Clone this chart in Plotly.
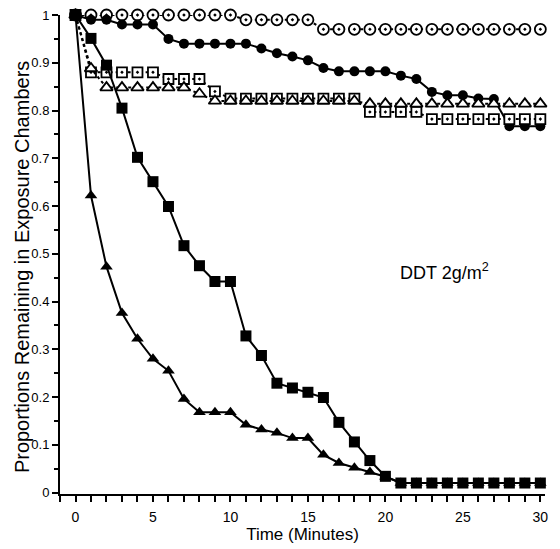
import plotly.graph_objects as go

time_min = list(range(31))

open_circles = [1.0]*11 + [0.99]*5 + [0.97]*15
filled_circles = [1.0, 0.99, 0.99, 0.98, 0.98, 0.98, 0.95, 0.94, 0.94, 0.94, 0.94,
                  0.94, 0.93, 0.92, 0.913, 0.905, 0.889, 0.882, 0.882, 0.882, 0.882,
                  0.873, 0.866, 0.839, 0.832, 0.832, 0.825, 0.824, 0.767, 0.767, 0.767]
open_squares = [1.0, 0.88, 0.88, 0.88, 0.88, 0.88, 0.866, 0.866, 0.866, 0.84, 0.825,
                0.825, 0.825, 0.825, 0.825, 0.825, 0.825, 0.825, 0.825, 0.797, 0.797,
                0.797, 0.797, 0.782, 0.782, 0.782, 0.782, 0.782, 0.782, 0.782, 0.782]
open_triangles = [1.0, 0.888, 0.848, 0.848, 0.848, 0.848, 0.848, 0.848, 0.835, 0.82, 0.82,
                  0.82, 0.82, 0.82, 0.82, 0.82, 0.82, 0.82, 0.82, 0.814, 0.814,
                  0.814, 0.814, 0.814, 0.814, 0.814, 0.814, 0.814, 0.814, 0.814, 0.814]
filled_squares = [1.0, 0.951, 0.895, 0.805, 0.702, 0.651, 0.599, 0.517, 0.475, 0.442, 0.442,
                  0.328, 0.287, 0.229, 0.219, 0.21, 0.199, 0.147, 0.106, 0.067, 0.034,
                  0.02, 0.02, 0.02, 0.02, 0.02, 0.02, 0.02, 0.02, 0.02, 0.02]
filled_triangles = [1.0, 0.622, 0.473, 0.376, 0.322, 0.28, 0.255, 0.196, 0.168, 0.168, 0.168,
                    0.142, 0.132, 0.125, 0.114, 0.114, 0.079, 0.062, 0.052, 0.043, 0.033,
                    0.02, 0.02, 0.02, 0.02, 0.02, 0.02, 0.02, 0.02, 0.02, 0.02]

x_ticks = [0, 5, 10, 15, 20, 25, 30]
y_ticks = [0, 0.1, 0.2, 0.3, 0.4, 0.5, 0.6, 0.7, 0.8, 0.9, 1]
y_tick_text = ["0", "0.1", "0.2", "0.3", "0.4", "0.5", "0.6", "0.7", "0.8", "0.9", "1"]

fig = go.Figure()

def add(y, symbol, dash, size, fill, lw=2, mlw=1.8):
    fig.add_trace(go.Scatter(
        x=time_min, y=y, mode="lines+markers", cliponaxis=False,
        line=dict(color="black", width=lw, dash=dash),
        marker=dict(symbol=symbol, size=size, color=fill,
                    line=dict(color="black", width=mlw)),
        showlegend=False))

add(open_circles, "circle-dot", "dot", 11, "white")
add(filled_circles, "circle", "solid", 10, "black", mlw=0)
add(open_squares, "square-dot", "dot", 10, "white")
add(open_triangles, "triangle-up", "dot", 11, "white")
add(filled_triangles, "triangle-up", "solid", 11, "black", mlw=0)
add(filled_squares, "square", "solid", 11, "black", mlw=0)

fig.add_annotation(x=0.697, y=0.464, xref="paper", yref="paper",
                   text="DDT 2g/m<sup>2</sup>", showarrow=False,
                   xanchor="left", yanchor="middle",
                   font=dict(family="Liberation Sans", size=18, color="black"))

fig.add_annotation(x=-0.078, y=0.474, xref="paper", yref="paper",
                   text="Proportions Remaining in Exposure Chambers", showarrow=False,
                   textangle=-90, xanchor="center", yanchor="middle",
                   font=dict(family="Liberation Sans", size=20, color="black"))

fig.update_layout(
    width=560, height=549,
    margin=dict(l=60, r=15, t=15, b=55, autoexpand=False),
    paper_bgcolor="white", plot_bgcolor="white",
    font=dict(family="Liberation Sans", color="black"),
)
fig.update_xaxes(
    range=[-1.0, 30.3], showgrid=False, zeroline=False, automargin=False,
    showline=True, linecolor="black", linewidth=2,
    tickmode="array", tickvals=x_ticks, ticktext=[str(v) for v in x_ticks],
    ticks="outside", ticklen=6, tickwidth=1.5, tickcolor="black",
    ticklabelstandoff=3,
    tickfont=dict(size=14, family="Liberation Sans"),
    minor=dict(dtick=1, tick0=0, ticks="outside", ticklen=6, tickwidth=1.5, tickcolor="black", showgrid=False),
    title=dict(text="Time (Minutes)", font=dict(size=17, family="Liberation Sans"), standoff=2),
)
fig.update_yaxes(
    range=[-0.003, 1.0], showgrid=False, zeroline=False, automargin=False,
    showline=True, linecolor="black", linewidth=2,
    tickmode="array", tickvals=y_ticks, ticktext=y_tick_text,
    ticks="outside", ticklen=6, tickwidth=1.5, tickcolor="black",
    tickfont=dict(size=13, family="Liberation Sans"),
    minor=dict(dtick=0.05, tick0=0, ticks="outside", ticklen=4, tickwidth=1.5, tickcolor="black", showgrid=False),
)

fig.write_html("out.html")
